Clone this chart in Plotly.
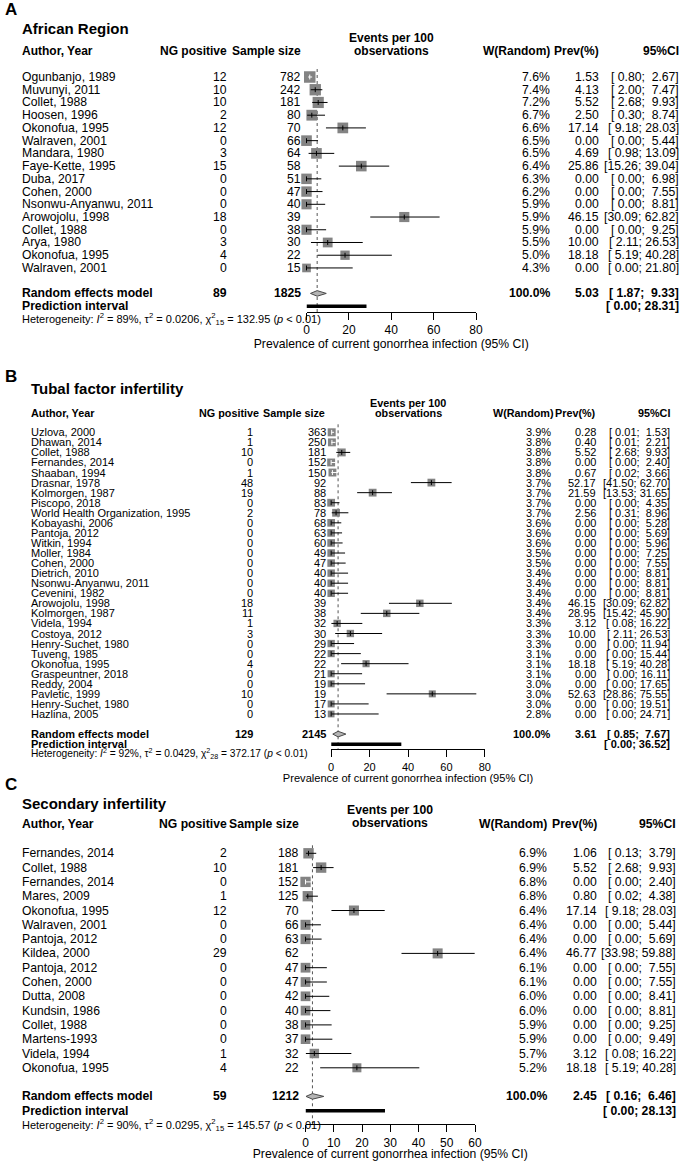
import plotly.graph_objects as go

FIG_W, FIG_H = 686, 1161
FONT = "Liberation Sans, Arial, Helvetica, sans-serif"
SQ_COLOR = "#838383"
DIAMOND_FILL = "#B4B4B4"
DIAMOND_LINE = "#4A4A4A"
DOT_COLOR = "#555555"

# ---------------- Panel A: African Region ----------------
authors_A = ["Ogunbanjo, 1989", "Muvunyi, 2011", "Collet, 1988", "Hoosen, 1996", "Okonofua, 1995",
             "Walraven, 2001", "Mandara, 1980", "Faye-Kette, 1995", "Duba, 2017", "Cohen, 2000",
             "Nsonwu-Anyanwu, 2011", "Arowojolu, 1998", "Collet, 1988", "Arya, 1980", "Okonofua, 1995",
             "Walraven, 2001"]
events_A = [12, 10, 10, 2, 12, 0, 3, 15, 0, 0, 0, 18, 0, 3, 4, 0]
n_A = [782, 242, 181, 80, 70, 66, 64, 58, 51, 47, 40, 39, 38, 30, 22, 15]
weight_A = [7.6, 7.4, 7.2, 6.7, 6.6, 6.5, 6.5, 6.4, 6.3, 6.2, 5.9, 5.9, 5.9, 5.5, 5.0, 4.3]
prev_A = [1.53, 4.13, 5.52, 2.50, 17.14, 0.00, 4.69, 25.86, 0.00, 0.00, 0.00, 46.15, 0.00, 10.00, 18.18, 0.00]
lower_A = [0.80, 2.00, 2.68, 0.30, 9.18, 0.00, 0.98, 15.26, 0.00, 0.00, 0.00, 30.09, 0.00, 2.11, 5.19, 0.00]
upper_A = [2.67, 7.47, 9.93, 8.74, 28.03, 5.44, 13.09, 39.04, 6.98, 7.55, 8.81, 62.82, 9.25, 26.53, 40.28, 21.80]
totals_A = [89, 1825]
pooled_A = [5.03, 1.87, 9.33]
predint_A = [0.00, 28.31]
het_A = ["89", "0.0206", "15", "132.95"]
ticks_A = [0, 20, 40, 60, 80]

# ---------------- Panel B: Tubal factor infertility ----------------
authors_B = ["Uzlova, 2000", "Dhawan, 2014", "Collet, 1988", "Fernandes, 2014", "Shaaban, 1994",
             "Drasnar, 1978", "Kolmorgen, 1987", "Piscopo, 2018", "World Health Organization, 1995",
             "Kobayashi, 2006", "Pantoja, 2012", "Witkin, 1994", "Moller, 1984", "Cohen, 2000",
             "Dietrich, 2010", "Nsonwu-Anyanwu, 2011", "Cevenini, 1982", "Arowojolu, 1998",
             "Kolmorgen, 1987", "Videla, 1994", "Costoya, 2012", "Henry-Suchet, 1980", "Tuveng, 1985",
             "Okonofua, 1995", "Graspeuntner, 2018", "Reddy, 2004", "Pavletic, 1999",
             "Henry-Suchet, 1980", "Hazlina, 2005"]
events_B = [1, 1, 10, 0, 1, 48, 19, 0, 2, 0, 0, 0, 0, 0, 0, 0, 0, 18, 11, 1, 3, 0, 0, 4, 0, 0, 10, 0, 0]
n_B = [363, 250, 181, 152, 150, 92, 88, 83, 78, 68, 63, 60, 49, 47, 40, 40, 40, 39, 38, 32, 30, 29,
       22, 22, 21, 19, 19, 17, 13]
weight_B = [3.9, 3.8, 3.8, 3.8, 3.8, 3.7, 3.7, 3.7, 3.7, 3.6, 3.6, 3.6, 3.5, 3.5, 3.4, 3.4, 3.4, 3.4,
            3.4, 3.3, 3.3, 3.3, 3.1, 3.1, 3.1, 3.0, 3.0, 3.0, 2.8]
prev_B = [0.28, 0.40, 5.52, 0.00, 0.67, 52.17, 21.59, 0.00, 2.56, 0.00, 0.00, 0.00, 0.00, 0.00, 0.00,
          0.00, 0.00, 46.15, 28.95, 3.12, 10.00, 0.00, 0.00, 18.18, 0.00, 0.00, 52.63, 0.00, 0.00]
lower_B = [0.01, 0.01, 2.68, 0.00, 0.02, 41.50, 13.53, 0.00, 0.31, 0.00, 0.00, 0.00, 0.00, 0.00, 0.00,
           0.00, 0.00, 30.09, 15.42, 0.08, 2.11, 0.00, 0.00, 5.19, 0.00, 0.00, 28.86, 0.00, 0.00]
upper_B = [1.53, 2.21, 9.93, 2.40, 3.66, 62.70, 31.65, 4.35, 8.96, 5.28, 5.69, 5.96, 7.25, 7.55, 8.81,
           8.81, 8.81, 62.82, 45.90, 16.22, 26.53, 11.94, 15.44, 40.28, 16.11, 17.65, 75.55, 19.51, 24.71]
totals_B = [129, 2145]
pooled_B = [3.61, 0.85, 7.67]
predint_B = [0.00, 36.52]
het_B = ["92", "0.0429", "28", "372.17"]
ticks_B = [0, 20, 40, 60, 80]

# ---------------- Panel C: Secondary infertility ----------------
authors_C = ["Fernandes, 2014", "Collet, 1988", "Fernandes, 2014", "Mares, 2009", "Okonofua, 1995",
             "Walraven, 2001", "Pantoja, 2012", "Kildea, 2000", "Pantoja, 2012", "Cohen, 2000",
             "Dutta, 2008", "Kundsin, 1986", "Collet, 1988", "Martens-1993", "Videla, 1994",
             "Okonofua, 1995"]
events_C = [2, 10, 0, 1, 12, 0, 0, 29, 0, 0, 0, 0, 0, 0, 1, 4]
n_C = [188, 181, 152, 125, 70, 66, 63, 62, 47, 47, 42, 40, 38, 37, 32, 22]
weight_C = [6.9, 6.9, 6.8, 6.8, 6.4, 6.4, 6.4, 6.4, 6.1, 6.1, 6.0, 6.0, 5.9, 5.9, 5.7, 5.2]
prev_C = [1.06, 5.52, 0.00, 0.80, 17.14, 0.00, 0.00, 46.77, 0.00, 0.00, 0.00, 0.00, 0.00, 0.00, 3.12, 18.18]
lower_C = [0.13, 2.68, 0.00, 0.02, 9.18, 0.00, 0.00, 33.98, 0.00, 0.00, 0.00, 0.00, 0.00, 0.00, 0.08, 5.19]
upper_C = [3.79, 9.93, 2.40, 4.38, 28.03, 5.44, 5.69, 59.88, 7.55, 7.55, 8.41, 8.81, 9.25, 9.49, 16.22, 40.28]
totals_C = [59, 1212]
pooled_C = [2.45, 0.16, 6.46]
predint_C = [0.00, 28.13]
het_C = ["90", "0.0295", "15", "145.57"]
ticks_C = [0, 10, 20, 30, 40, 50, 60]

header_cols = ["Author, Year", "NG positive", "Sample size", "W(Random)", "Prev(%)", "95%CI"]
events_header = ["Events per 100", "observations"]
axis_title = "Prevalence of current gonorrhea infection (95% CI)"

# ---------------- layout (pixel positions) per panel ----------------
panels = [
    dict(letter="A", title="African Region", authors=authors_A, events=events_A, n=n_A, w=weight_A,
         prev=prev_A, lo=lower_A, hi=upper_A, tot=totals_A, pooled=pooled_A, pi=predint_A, het=het_A,
         ticks=ticks_A,
         L=dict(letter_y=9, title_x=19.5, title_y=29, hdr_y=51.5, ev_y=[38, 51], top=77, rh=12.73,
                x0=308, x1=480, axis_y=312, author=19.5, ng_h=227, ng=227, n_h=302, n=302,
                w_h=555, w=555, p_h=605, p=605, ci_h=686, ci=686,
                fs=12.2, fs_hdr=12, fs_title=15, fs_het=11, fs_tick=12, fs_axt=12.2, sq=11.5, stand=2)),
    dict(letter="B", title="Tubal factor infertility", authors=authors_B, events=events_B, n=n_B,
         w=weight_B, prev=prev_B, lo=lower_B, hi=upper_B, tot=totals_B, pooled=pooled_B, pi=predint_B,
         het=het_B, ticks=ticks_B,
         L=dict(letter_y=376, title_x=28, title_y=388, hdr_y=412.7, ev_y=[403, 413.3], top=432.3,
                rh=10.06, x0=333, x1=489, axis_y=749.3, author=28, ng_h=260, ng=254, n_h=327, n=328,
                w_h=559, w=556, p_h=602, p=601.5, ci_h=677, ci=676.5,
                fs=11, fs_hdr=10.8, fs_title=15, fs_het=10.2, fs_tick=11, fs_axt=11.1, sq=8, stand=0)),
    dict(letter="C", title="Secondary infertility", authors=authors_C, events=events_C, n=n_C,
         w=weight_C, prev=prev_C, lo=lower_C, hi=upper_C, tot=totals_C, pooled=pooled_C, pi=predint_C,
         het=het_C, ticks=ticks_C,
         L=dict(letter_y=784, title_x=19.5, title_y=803, hdr_y=823.5, ev_y=[810, 823.3], top=853.3,
                rh=14.3, x0=307, x1=479, axis_y=1124.3, author=19.5, ng_h=227, ng=227, n_h=300, n=300,
                w_h=552, w=552, p_h=603, p=603, ci_h=683, ci=683,
                fs=12.2, fs_hdr=12.2, fs_title=15, fs_het=11, fs_tick=12, fs_axt=12.2, sq=10.4, stand=1)),
]


def nb(s):
    return s.replace(" ", "\u00a0")


def fmt_ci(lo, hi):
    return nb(f"[{lo:5.2f}; {hi:5.2f}]")


fig = go.Figure()
annotations = []


def txt(text, xpx, y, yref, size, anchor="left", bold=False):
    if bold:
        text = f"<b>{text}</b>"
    if yref == "paper":
        y = 1 - y / FIG_H
    annotations.append(dict(text=text, x=xpx / FIG_W, xref="paper", y=y, yref=yref,
                            xanchor=anchor, yanchor="middle", showarrow=False,
                            borderpad=0, borderwidth=0,
                            font=dict(family=FONT, size=size, color="black")))


layout_axes = {}
for k, P in enumerate(panels, start=1):
    L = P["L"]
    xa = "x" if k == 1 else f"x{k}"
    ya = "y" if k == 1 else f"y{k}"
    xkey = "xaxis" if k == 1 else f"xaxis{k}"
    ykey = "yaxis" if k == 1 else f"yaxis{k}"
    xmax = P["ticks"][-1]
    nrow = len(P["authors"])
    rows = list(range(nrow))
    scale = (L["x1"] - L["x0"]) / xmax  # px per unit
    rh = L["rh"]

    # dotted vertical line at pooled estimate
    top_row = -8 / rh
    axis_row = (L["axis_y"] - L["top"]) / rh
    fig.add_trace(go.Scatter(x=[P["pooled"][0], P["pooled"][0]], y=[top_row, axis_row],
                             mode="lines", line=dict(color=DOT_COLOR, width=1, dash="dot"),
                             xaxis=xa, yaxis=ya, hoverinfo="skip", showlegend=False))

    # squares
    wmax = max(P["w"])
    sizes = [L["sq"] * (wi / wmax) ** 0.5 for wi in P["w"]]
    fig.add_trace(go.Scatter(x=P["prev"], y=rows, mode="markers",
                             marker=dict(symbol="square", size=sizes, color=SQ_COLOR, opacity=1,
                                         line=dict(width=0)),
                             cliponaxis=False, xaxis=xa, yaxis=ya, hoverinfo="skip", showlegend=False))

    # confidence interval lines (white when inside the square)
    inside = [(h - l) * scale < s for l, h, s in zip(P["lo"], P["hi"], sizes)]
    for flag, col in [(False, "black"), (True, "white")]:
        lx, ly = [], []
        for r, l, h, f in zip(rows, P["lo"], P["hi"], inside):
            if f == flag:
                lx += [l, h, None]
                ly += [r, r, None]
        if lx:
            fig.add_trace(go.Scatter(x=lx, y=ly, mode="lines", line=dict(color=col, width=1),
                                     xaxis=xa, yaxis=ya, hoverinfo="skip", showlegend=False))
    # small tick at estimate
    fig.add_trace(go.Scatter(x=P["prev"], y=rows, mode="markers",
                             marker=dict(symbol="line-ns", size=3.5,
                                         line=dict(width=1, color=["white" if f else "black" for f in inside])),
                             cliponaxis=False, xaxis=xa, yaxis=ya, hoverinfo="skip", showlegend=False))

    # pooled diamond
    srow = nrow + 1
    est, plo, phi = P["pooled"]
    d = 2.8 / rh
    fig.add_trace(go.Scatter(x=[plo, est, phi, est, plo], y=[srow, srow - d, srow, srow + d, srow],
                             mode="lines", fill="toself", fillcolor=DIAMOND_FILL,
                             line=dict(color=DIAMOND_LINE, width=1), cliponaxis=False,
                             xaxis=xa, yaxis=ya, hoverinfo="skip", showlegend=False))
    # prediction interval
    fig.add_trace(go.Scatter(x=P["pi"], y=[srow + 1, srow + 1], mode="lines",
                             line=dict(color="black", width=3.5),
                             xaxis=xa, yaxis=ya, hoverinfo="skip", showlegend=False))

    layout_axes[xkey] = dict(domain=[L["x0"] / FIG_W, L["x1"] / FIG_W], range=[0, xmax],
                             anchor="free", position=1 - L["axis_y"] / FIG_H,
                             showline=True, linecolor="black", linewidth=1, mirror=False,
                             ticks="outside", ticklen=7, tickwidth=1, tickcolor="black",
                             tickvals=P["ticks"], ticktext=[str(t) for t in P["ticks"]],
                             showgrid=False, zeroline=False, fixedrange=True,
                             tickfont=dict(family=FONT, size=L["fs_tick"], color="black"),
                             title=dict(text=axis_title, standoff=L["stand"],
                                        font=dict(family=FONT, size=L["fs_axt"], color="black")))
    layout_axes[ykey] = dict(domain=[0, 1], range=[(FIG_H - L["top"]) / rh, -L["top"] / rh],
                             visible=False, fixedrange=True, anchor=xa)

    # ---- texts ----
    txt(f"<b>{P['letter']}</b>", 8, L["letter_y"], "paper", 17, anchor="center")
    txt(P["title"], L["title_x"], L["title_y"], "paper", L["fs_title"], bold=True)
    fs = L["fs"]
    fh = L["fs_hdr"]
    txt(header_cols[0], L["author"], L["hdr_y"], "paper", fh, bold=True)
    txt(header_cols[1], L["ng_h"], L["hdr_y"], "paper", fh, anchor="right", bold=True)
    txt(header_cols[2], L["n_h"], L["hdr_y"], "paper", fh, anchor="right", bold=True)
    txt(header_cols[3], L["w_h"], L["hdr_y"], "paper", fh, anchor="right", bold=True)
    txt(header_cols[4], L["p_h"], L["hdr_y"], "paper", fh, anchor="right", bold=True)
    txt(header_cols[5], L["ci_h"], L["hdr_y"], "paper", fh, anchor="right", bold=True)
    xc = (L["x0"] + L["x1"]) / 2
    for line, yy in zip(events_header, L["ev_y"]):
        txt(line, xc, yy, "paper", fh, anchor="center", bold=True)

    for r, a, e, nn, wi, p, l, h in zip(rows, P["authors"], P["events"], P["n"], P["w"],
                                          P["prev"], P["lo"], P["hi"]):
        txt(a, L["author"], r, ya, fs)
        txt(str(e), L["ng"], r, ya, fs, anchor="right")
        txt(str(nn), L["n"], r, ya, fs, anchor="right")
        txt(f"{wi:.1f}%", L["w"], r, ya, fs, anchor="right")
        txt(f"{p:.2f}", L["p"], r, ya, fs, anchor="right")
        txt(fmt_ci(l, h), L["ci"], r, ya, fs, anchor="right")

    txt("Random effects model", L["author"], srow, ya, fs, bold=True)
    txt(str(P["tot"][0]), L["ng"], srow, ya, fs, anchor="right", bold=True)
    txt(str(P["tot"][1]), L["n"], srow, ya, fs, anchor="right", bold=True)
    txt("100.0%", L["w"], srow, ya, fs, anchor="right", bold=True)
    txt(f"{est:.2f}", L["p"], srow, ya, fs, anchor="right", bold=True)
    txt(fmt_ci(plo, phi), L["ci"], srow, ya, fs, anchor="right", bold=True)
    txt("Prediction interval", L["author"], srow + 1, ya, fs, bold=True)
    txt(fmt_ci(P["pi"][0], P["pi"][1]), L["ci"], srow + 1, ya, fs, anchor="right", bold=True)
    i2, tau2, df, q = P["het"]
    het_text = (f"Heterogeneity: <i>I</i><sup>2</sup> = {i2}%, τ<sup>2</sup> = {tau2}, "
                f"χ<sup>2</sup><sub>{df}</sub> = {q} (<i>p</i> &lt; 0.01)")
    txt(het_text, L["author"], srow + 2, ya, L["fs_het"])

fig.update_layout(width=FIG_W, height=FIG_H, margin=dict(l=0, r=0, t=0, b=0),
                  paper_bgcolor="white", plot_bgcolor="rgba(0,0,0,0)",
                  showlegend=False, annotations=annotations,
                  font=dict(family=FONT, color="black"), **layout_axes)

fig.write_html("out.html", config={"displayModeBar": False, "staticPlot": True},
               post_script="document.body.style.margin='0';document.body.style.padding='0';")
